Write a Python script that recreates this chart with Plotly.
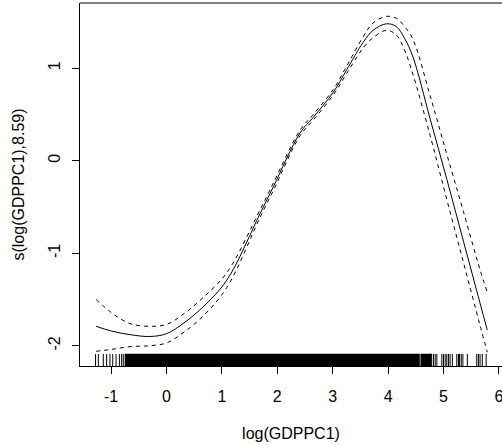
import plotly.graph_objects as go

# ---- data ----
x_grid = [-1.27, -1.0, -0.66, -0.30, 0.0, 0.30, 0.66, 1.09, 1.69, 1.93, 2.41, 2.65,
          3.01, 3.25, 3.55, 3.73, 3.97, 4.15, 4.30, 4.45, 4.76, 5.06, 5.36, 5.66, 5.79]
fit = [-1.79, -1.84, -1.88, -1.90, -1.87, -1.76, -1.58, -1.29, -0.57, -0.28, 0.30, 0.47,
       0.74, 0.98, 1.28, 1.41, 1.48, 1.45, 1.32, 1.12, 0.45, -0.20, -0.87, -1.54, -1.83]
upper = [-1.50, -1.64, -1.76, -1.79, -1.77, -1.66, -1.48, -1.21, -0.53, -0.24, 0.33, 0.50,
         0.77, 1.02, 1.34, 1.49, 1.56, 1.54, 1.45, 1.31, 0.70, 0.07, -0.55, -1.18, -1.42]
lower = [-2.06, -2.04, -2.01, -2.00, -1.97, -1.86, -1.68, -1.37, -0.61, -0.32, 0.27, 0.44,
         0.71, 0.94, 1.22, 1.33, 1.41, 1.36, 1.19, 0.93, 0.27, -0.42, -1.10, -1.78, -2.07]

# rug: spans where observations are too dense to separate, plus individual observations
rug_dense_spans = [(-0.75, 4.57), (4.59, 4.79)]
rug_sparse = [-1.28, -1.23, -1.14, -1.08, -1.02, -0.97, -0.91, -0.85, -0.81, -0.78,
              4.82, 4.85, 4.88, 4.97, 5.00, 5.03, 5.06, 5.09, 5.12, 5.16,
              5.24, 5.27, 5.29, 5.32, 5.35, 5.43, 5.60, 5.63, 5.66, 5.70, 5.77]

x_ticks = [-1, 0, 1, 2, 3, 4, 5, 6]
y_ticks = [-2, -1, 0, 1]

x_title = "log(GDPPC1)"
y_title = "s(log(GDPPC1),8.59)"

# ---- layout constants ----
X_RANGE = [-1.561, 6.056]
Y_RANGE = [-2.219, 1.705]
RUG_H = 0.13  # rug height in y units
FONT = "Liberation Sans, Arial, sans-serif"

fig = go.Figure()

y0 = Y_RANGE[0]
y1 = Y_RANGE[0] + RUG_H
for a, b in rug_dense_spans:
    fig.add_trace(go.Scatter(x=[a, b, b, a, a], y=[y0, y0, y1, y1, y0], mode="lines",
                             fill="toself", fillcolor="black", line=dict(width=0.5, color="black"),
                             hoverinfo="skip", showlegend=False))
rx, ry = [], []
for v in rug_sparse:
    rx += [v, v, None]
    ry += [y0, y1, None]
fig.add_trace(go.Scatter(x=rx, y=ry, mode="lines", line=dict(color="black", width=1),
                         hoverinfo="skip", showlegend=False))

for ys, dash in [(upper, "4px,4px"), (lower, "4px,4px"), (fit, "solid")]:
    fig.add_trace(go.Scatter(x=x_grid, y=ys, mode="lines",
                             line=dict(color="black", width=1, dash=dash, shape="spline", smoothing=1.0),
                             showlegend=False))

axis_common = dict(showgrid=False, zeroline=False, showline=True, linecolor="black", linewidth=1,
                   ticks="outside", ticklen=7, tickcolor="black", tickwidth=1, automargin=False,
                   ticklabeloverflow="allow",
                   tickfont=dict(family=FONT, size=16, color="black"),
                   title_font=dict(family=FONT, size=16, color="black"))

fig.update_xaxes(range=X_RANGE, tickvals=x_ticks, ticktext=[str(t) for t in x_ticks],
                 title_text=x_title, title_standoff=23, ticklabelstandoff=9, **axis_common)
fig.update_yaxes(range=Y_RANGE, tickvals=y_ticks, ticktext=[str(t) for t in y_ticks],
                 tickangle=-90, title_text=y_title, title_standoff=16, ticklabelstandoff=6,
                 **axis_common)

fig.add_shape(type="line", xref="paper", yref="paper", x0=0, x1=1, y0=1, y1=1,
              line=dict(color="black", width=1))

fig.update_layout(width=502, height=445, margin=dict(l=80, r=0, t=3, b=79),
                  paper_bgcolor="white", plot_bgcolor="white",
                  font=dict(family=FONT, size=16, color="black"))

fig.write_html("out.html", config={"displayModeBar": False},
               post_script="document.body.style.margin='0';")
